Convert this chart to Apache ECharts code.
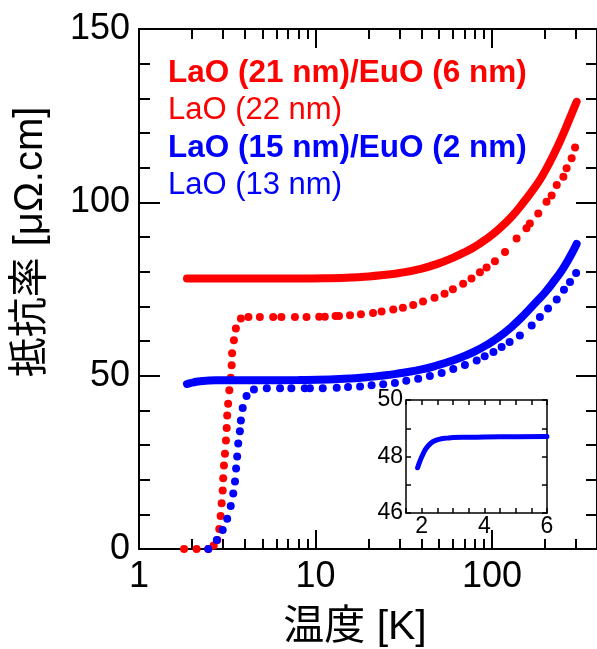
<!DOCTYPE html>
<html>
<head>
<meta charset="utf-8">
<script src="https://cdn.jsdelivr.net/npm/echarts@6/dist/echarts.min.js"></script>
<style>html,body{margin:0;padding:0;background:#fff}#main{width:597px;height:649px}</style>
</head>
<body>
<div id="main"></div>
<script>
// 系列名（凡例）
var seriesNames = ['LaO (21 nm)/EuO (6 nm)', 'LaO (22 nm)', 'LaO (15 nm)/EuO (2 nm)', 'LaO (13 nm)'];

// [温度 K, 抵抗率 μΩ.cm]
var redBilayer = [[1.87,78],[3,78],[5,78],[8,78],[12,78.1],[16,78.3],[20,78.6],[25,79.1],[30,79.6],[40,80.9],[50,82.4],[60,84],[70,85.6],[80,87.2],[93,89.4],[110,92.4],[130,96],[150,99.8],[180,105.2],[200,109],[225,114],[250,119],[275,124],[302,129]];
var redSingle = [[1.8,0],[2.12,0],[2.47,0],[2.65,1],[2.78,2.6],[2.85,5.8],[2.9,9.5],[2.94,13.2],[2.98,16.9],[3.0,20.4],[3.03,24.1],[3.07,27.5],[3.11,31.3],[3.14,34.9],[3.16,38.5],[3.2,41.9],[3.25,45.8],[3.31,49.4],[3.35,53],[3.37,56.5],[3.45,60.2],[3.54,63.6],[3.78,66.5],[4.17,66.9],[4.84,66.9],[5.76,66.9],[6.41,66.9],[7.65,66.9],[8.9,66.9],[10.5,67],[11.3,67],[13.0,67.2],[13.6,67.2],[15.7,67.4],[18.1,67.7],[21.2,68.1],[23.7,68.5],[27.6,69.1],[31.3,69.6],[35.8,70.4],[40.7,71.4],[47.3,72.5],[53.9,73.6],[60.1,74.9],[68.7,76.5],[76.6,78.0],[85.5,79.8],[93.3,81.2],[104,83],[118.6,85.7],[138,89.6],[157,92.5],[164,93.9],[183,96.8],[204,100.2],[218,102],[233,105],[254,107.4],[265,109.8],[283,112.7],[296,115.8]];
var blueBilayer = [[1.87,47.6],[1.95,47.85],[2.05,48.1],[2.15,48.3],[2.3,48.48],[2.5,48.6],[2.8,48.66],[3.5,48.7],[5,48.7],[8,48.75],[12,48.9],[16,49.2],[20,49.6],[25,50.1],[30,50.7],[40,51.8],[50,53.1],[60,54.4],[70,55.7],[80,57],[93,58.8],[110,61.2],[130,64.2],[150,67.2],[180,71.5],[200,74],[225,77.3],[250,80.5],[275,84],[302,88]];
var blueSingle = [[2.47,0],[2.76,2.6],[2.98,5.5],[3.16,8.7],[3.31,12.4],[3.42,16],[3.5,19.5],[3.55,23.2],[3.6,26.7],[3.65,30.4],[3.73,34],[3.78,37.1],[3.87,40.7],[4.07,44.1],[4.48,46],[5.3,46.4],[6.3,46.4],[7.3,46.4],[8.7,46.4],[9.3,46.4],[11,46.4],[13.2,46.5],[15.3,46.7],[17.9,46.9],[20.8,47.2],[24.2,47.5],[28.2,47.9],[32.7,48.5],[38.2,49.1],[44.5,49.9],[51.9,50.8],[60.4,51.9],[70.3,53.1],[82,54.4],[91,55.6],[102,56.8],[113.5,58.3],[126,59.7],[144,61.6],[168,64.5],[187,66.9],[208,69.4],[233,72],[256,74.8],[277,77],[300,79.6]];
// 挿入図（低温部の拡大）
var insetBlue = [[1.87,47.6],[1.95,47.85],[2.05,48.1],[2.15,48.3],[2.3,48.48],[2.45,48.57],[2.6,48.62],[2.8,48.65],[3.0,48.67],[3.5,48.68],[4,48.69],[5,48.7],[6,48.71]];

// 目盛り
var xMajor = [1, 10, 100];
var xMinor = [2,3,4,5,6,7,8,9,20,30,40,50,60,70,80,90,200,300];
var insetXLabels = [2, 4, 6];
var insetYLabels = [46, 48, 50];

var RED = '#ff0000';
var BLUE = '#0000ff';
var FONT = '"Liberation Sans", Arial, sans-serif';
var CJK = '"Liberation Sans", "Noto Sans CJK JP", sans-serif';

var chart = echarts.init(document.getElementById('main'));

function logAxis(pos, ticks, len, showLine, labels) {
    return {
        type: 'log', logBase: 10, min: 1, max: 394, gridIndex: 0, position: pos,
        axisLine: {show: showLine, lineStyle: {color: '#000', width: 2}},
        axisTick: {show: true, inside: true, length: len, customValues: ticks, lineStyle: {color: '#000', width: 2}},
        axisLabel: labels ? {show: true, customValues: labels, color: '#000', fontSize: 36, fontFamily: FONT, margin: 10} : {show: false},
        splitLine: {show: false}, minorTick: {show: false}
    };
}
function mainY(pos, showLabel) {
    return {
        type: 'value', min: 0, max: 150, interval: 50, gridIndex: 0, position: pos,
        axisLine: {show: true, onZero: false, lineStyle: {color: '#000', width: 2}},
        axisTick: {show: true, inside: true, length: 21, lineStyle: {color: '#000', width: 2}},
        minorTick: {show: true, splitNumber: 5, length: 11, lineStyle: {color: '#000', width: 2}},
        axisLabel: {show: showLabel, color: '#000', fontSize: 36, fontFamily: FONT, margin: 9},
        splitLine: {show: false}
    };
}
function insetX(pos, showLabel) {
    return {
        type: 'value', min: 1.5, max: 6, interval: 0.5, gridIndex: 1, position: pos,
        axisLine: {show: true, onZero: false, lineStyle: {color: '#000', width: 1.5}},
        axisTick: {show: true, inside: true, length: 5, lineStyle: {color: '#000', width: 1.5}},
        axisLabel: {show: showLabel, customValues: insetXLabels, color: '#000', fontSize: 23, fontFamily: FONT, margin: 2},
        splitLine: {show: false}
    };
}
function insetY(pos, showLabel) {
    return {
        type: 'value', min: 46, max: 50, interval: 1, gridIndex: 1, position: pos,
        axisLine: {show: true, onZero: false, lineStyle: {color: '#000', width: 1.5}},
        axisTick: {show: true, inside: true, length: 5, lineStyle: {color: '#000', width: 1.5}},
        axisLabel: {show: showLabel, customValues: insetYLabels, color: '#000', fontSize: 23, fontFamily: FONT, margin: 3},
        splitLine: {show: false}
    };
}

var option = {
    backgroundColor: '#fff',
    animation: false,
    grid: [
        {left: 139, top: 29, width: 458, height: 520},
        {left: 406, top: 400, width: 141, height: 113}
    ],
    legend: {
        orient: 'vertical', left: 158, top: 52, itemGap: 6, itemWidth: 0, itemHeight: 31,
        selectedMode: false,
        textStyle: {fontSize: 31, fontFamily: FONT},
        data: [
            {name: seriesNames[0], icon: 'none', textStyle: {color: RED, fontWeight: 'bold', fontSize: 31.5}},
            {name: seriesNames[1], icon: 'none', textStyle: {color: RED}},
            {name: seriesNames[2], icon: 'none', textStyle: {color: BLUE, fontWeight: 'bold', fontSize: 31.5}},
            {name: seriesNames[3], icon: 'none', textStyle: {color: BLUE}}
        ]
    },
    xAxis: [
        logAxis('bottom', xMajor, 19, true, xMajor),
        logAxis('bottom', xMinor, 10, false, null),
        logAxis('top', xMajor, 19, true, null),
        logAxis('top', xMinor, 10, false, null),
        insetX('bottom', true),
        insetX('top', false)
    ],
    yAxis: [
        mainY('left', true),
        mainY('right', false),
        insetY('left', true),
        insetY('right', false)
    ],
    graphic: [
        {type: 'text', x: 355, y: 628, style: {text: '温度 [K]', fontSize: 41, fontFamily: CJK, fill: '#000', align: 'center', verticalAlign: 'middle', textAlign: 'center', textVerticalAlign: 'middle'}},
        {type: 'text', x: 31, y: 242, rotation: Math.PI / 2, style: {text: '抵抗率 [μΩ.cm]', fontSize: 40, fontFamily: CJK, fill: '#000', align: 'center', verticalAlign: 'middle', textAlign: 'center', textVerticalAlign: 'middle'}}
    ],
    series: [
        {name: seriesNames[0], type: 'line', xAxisIndex: 0, yAxisIndex: 0, data: redBilayer, smooth: true, showSymbol: false, lineStyle: {color: RED, width: 8, cap: 'round'}, itemStyle: {color: RED}},
        {name: seriesNames[1], type: 'scatter', xAxisIndex: 0, yAxisIndex: 0, data: redSingle, symbolSize: 8, itemStyle: {color: RED, opacity: 1}},
        {name: seriesNames[2], type: 'line', xAxisIndex: 0, yAxisIndex: 0, data: blueBilayer, smooth: true, showSymbol: false, lineStyle: {color: BLUE, width: 8, cap: 'round'}, itemStyle: {color: BLUE}},
        {name: seriesNames[3], type: 'scatter', xAxisIndex: 0, yAxisIndex: 0, data: blueSingle, symbolSize: 8, itemStyle: {color: BLUE, opacity: 1}},
        {name: 'inset', type: 'line', xAxisIndex: 4, yAxisIndex: 2, data: insetBlue, smooth: true, showSymbol: false, lineStyle: {color: BLUE, width: 5, cap: 'round'}}
    ]
};
chart.setOption(option);
</script>
</body>
</html>
